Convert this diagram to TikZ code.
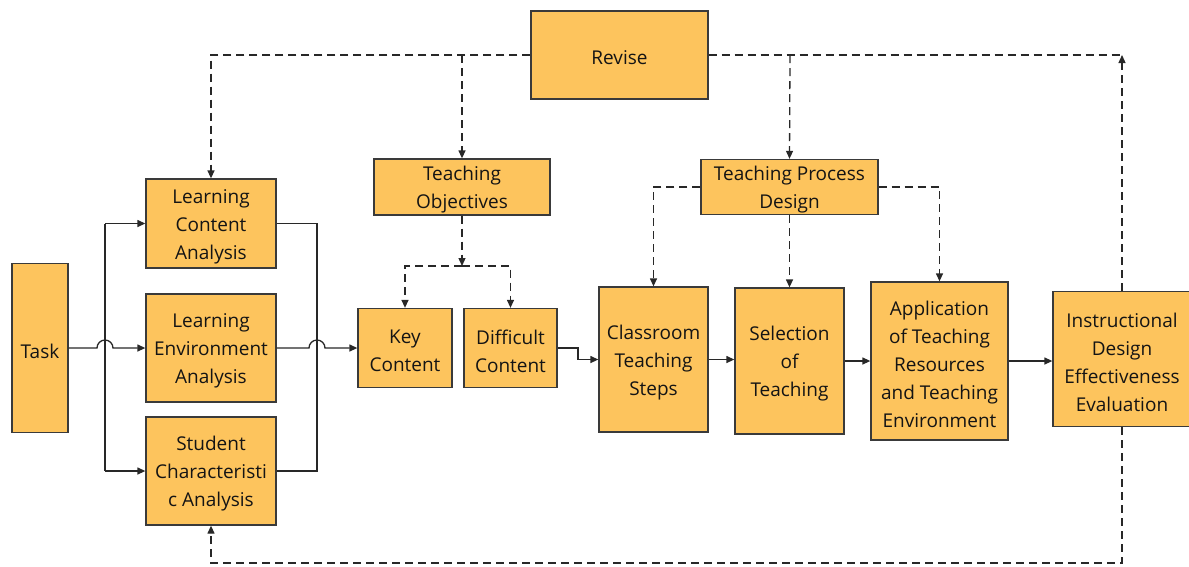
\documentclass[tikz,border=0pt]{standalone}
\usepackage{fontspec}
\setmainfont{Open Sans}
\usetikzlibrary{arrows.meta}
\definecolor{boxfill}{RGB}{253,196,93}
\definecolor{boxline}{RGB}{58,58,58}
\definecolor{wire}{RGB}{40,40,40}
\tikzset{
  box/.style={draw=boxline, fill=boxfill, line width=1.3pt, inner sep=0pt},
  boxtext/.style={inner sep=0pt, align=center,
    font={\fontsize{19}{28}\selectfont}, text=black!92},
  wireline/.style={draw=wire, line width=1.3pt},
  arr/.style={wireline, -{Triangle[length=8pt,width=7pt]}},
  dline/.style={wireline, dash pattern=on 8pt off 5pt},
  darr/.style={dline, -{Triangle[length=8pt,width=7pt]}},
}
% box frame plus its centred label, set a little low in the frame
\newcommand{\bx}[6]{%
  \node[box, minimum width=#4pt, minimum height=#5pt] (#1) at (#2,#3) {};
  \node[boxtext] (#1-label) at ([yshift=-3pt]#1.center) {#6};}
\begin{document}
\begin{tikzpicture}[x=1pt, y=-1pt]
\useasboundingbox (0,0) rectangle (1189,566);

% boxes
\bx{task}{40}{348}{56}{169}{Task}
\bx{lca}{211}{223.5}{130}{89}{Learning\\Content\\Analysis}
\bx{lea}{211}{348}{130}{108}{Learning\\Environment\\Analysis}
\bx{sca}{211}{471}{130}{108}{Student\\Characteristi\\c Analysis}
\bx{key}{405}{348}{94}{79}{Key\\Content}
\bx{diff}{510.5}{348}{93}{79}{Difficult\\Content}
\bx{obj}{462}{187}{176}{56}{Teaching\\Objectives}
\bx{revise}{619.5}{55}{177}{88}{Revise}
\bx{tpd}{789.5}{187}{177}{55}{Teaching Process\\Design}
\bx{cls}{653.5}{359.5}{109}{145}{Classroom\\Teaching\\Steps}
\bx{sel}{789.5}{361}{109}{146}{Selection\\of\\Teaching}
\bx{app}{939.5}{361}{137}{158}{Application\\of Teaching\\Resources\\and Teaching\\Environment}
\bx{eval}{1122}{359}{138}{135}{Instructional\\Design\\Effectiveness\\Evaluation}

% junction points
\coordinate (lbt) at (105,223.5);
\coordinate (lbb) at (105,471);
\coordinate (rbt) at (317,223.5);
\coordinate (rbb) at (317,471);
\coordinate (kd) at (462,266);
\coordinate (dstep) at (578,353);
\coordinate (rl) at (211,55);
\coordinate (ro) at (462,55);
\coordinate (rp) at (790,55);
\coordinate (rr) at (1122,55);
\coordinate (be) at (1122,563);
\coordinate (bw) at (211,563);

% analysis stage
\draw[wireline] (lbt) -- (lbb);
\draw[arr] (lbt) -- (lca.west);
\draw[arr] (lbb) -- (sca.west);
\draw[arr] (task.east) -- (97,348) arc[start angle=180, end angle=0, radius=8pt] -- (lea.west);
\draw[wireline] (lca.east) -- (rbt) -- (rbb) -- (sca.east);
\draw[arr] (lea.east) -- (309,348) arc[start angle=180, end angle=0, radius=8pt] -- (key.west);

% objectives
\draw[darr] (obj.south) -- (kd);
\draw[darr] (kd) -| (key.north);
\draw[darr] (kd) -| (diff.north);

% process chain
\draw[arr] (diff.east) -| (dstep) |- (cls.west);
\draw[arr] (cls.east) -- (cls.east -| sel.west);
\draw[arr] (sel.east) -- (sel.east -| app.west);
\draw[arr] (app.east) -- (app.east -| eval.west);

% process design
\draw[darr] (tpd.west) -| (cls.north);
\draw[darr] (tpd.south) -- (sel.north);
\draw[darr] (tpd.east) -| (app.north);

% revision loop
\draw[darr] (revise.west) -- (rl) -- (lca.north);
\draw[darr] (ro) -- (obj.north);
\draw[dline] (revise.east) -- (rr);
\draw[darr] (rp) -- (tpd.north);
\draw[darr] (eval.north) -- (rr);
\draw[darr] (eval.south) -- (be) -- (bw) -- (sca.south);
\end{tikzpicture}
\end{document}
